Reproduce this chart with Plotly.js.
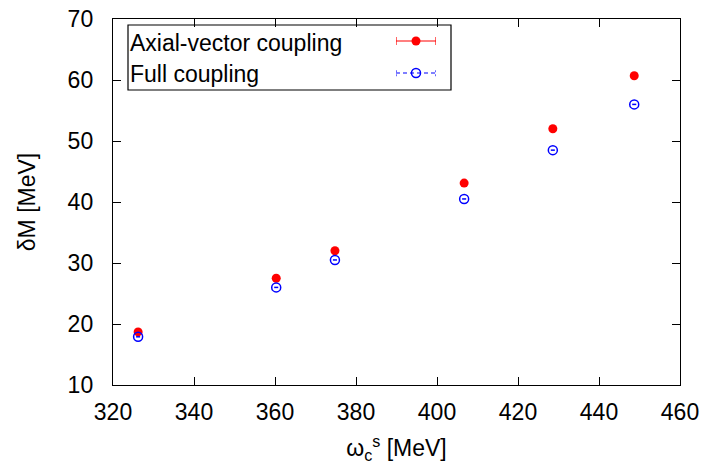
<!DOCTYPE html>
<html>
<head>
<meta charset="utf-8">
<script src="https://cdn.plot.ly/plotly-3.0.1.min.js"></script>
<style>html,body{margin:0;padding:0;background:#fff;}#chart{width:709px;height:470px;}</style>
</head>
<body>
<div id="chart"></div>
<script>
// Data
const omegaC = [326.2, 360.3, 374.8, 406.7, 428.6, 448.7];
const axialVector = [18.7, 27.5, 32.0, 43.1, 52.0, 60.7];
const axialVectorErr = [0.3, 0.3, 0.3, 0.3, 0.3, 0.3];
const fullCoupling = [17.9, 26.0, 30.5, 40.5, 48.5, 56.0];
const fullCouplingErr = [0.5, 0.5, 0.5, 0.5, 0.5, 0.5];
const seriesNames = ["Axial-vector coupling", "Full coupling"];
const xTicks = [320, 340, 360, 380, 400, 420, 440, 460];
const yTicks = [10, 20, 30, 40, 50, 60, 70];

const FONT = "Liberation Sans, Arial, Helvetica, sans-serif";
const FS = 23;

const traces = [
  {
    x: omegaC, y: axialVector, type: "scatter", mode: "markers", name: seriesNames[0],
    marker: {color: "#ff0000", size: 9, symbol: "circle"},
    error_x: {type: "data", array: axialVectorErr, visible: true, color: "#ff0000", thickness: 1, width: 3},
    showlegend: false
  },
  {
    x: omegaC, y: fullCoupling, type: "scatter", mode: "markers", name: seriesNames[1],
    marker: {color: "#0000ff", size: 9, symbol: "circle-open", line: {color: "#0000ff", width: 1.5}},
    error_x: {type: "data", array: fullCouplingErr, visible: true, color: "#0000ff", thickness: 1.5, width: 0},
    showlegend: false
  },
  // legend samples on overlay axes (0..1 coordinates)
  {
    x: [0.5], y: [0.5], xaxis: "x2", yaxis: "y2", type: "scatter", mode: "markers",
    marker: {color: "#ff0000", size: 9}, hoverinfo: "skip", showlegend: false,
    error_x: {type: "constant", value: 0.5, visible: true, color: "#ff0000", thickness: 1.2, width: 4}
  },
  {
    x: [0, 1], y: [0.5, 0.5], xaxis: "x3", yaxis: "y3", type: "scatter", mode: "lines",
    line: {color: "#0000ff", width: 1.2, dash: "4px,3px"}, hoverinfo: "skip", showlegend: false
  },
  {
    x: [0, 0, null, 1, 1], y: [0.3, 0.7, null, 0.3, 0.7], xaxis: "x3", yaxis: "y3", type: "scatter", mode: "lines",
    line: {color: "#0000ff", width: 1.2, dash: "2px,2px"}, hoverinfo: "skip", showlegend: false
  },
  {
    x: [0.5], y: [0.5], xaxis: "x3", yaxis: "y3", type: "scatter", mode: "markers",
    marker: {color: "#0000ff", size: 9, symbol: "circle-open", line: {color: "#0000ff", width: 1.5}},
    hoverinfo: "skip", showlegend: false
  }
];

const L = 113, R = 680, T = 19, B = 385;
const px = v => (v - L) / (R - L);
const py = v => (B - v) / (B - T);

const layout = {
  width: 709, height: 470,
  margin: {l: 113, r: 29, t: 19, b: 85},
  paper_bgcolor: "#fff", plot_bgcolor: "#fff",
  font: {family: FONT, size: FS, color: "#000"},
  showlegend: false,
  xaxis: {
    range: [320, 460], tickvals: xTicks, ticktext: xTicks.map(String),
    ticks: "inside", ticklen: 8, tickwidth: 1, tickcolor: "#000",
    showline: true, linecolor: "#000", linewidth: 1.2, mirror: "ticks",
    showgrid: false, zeroline: false, ticklabelstandoff: 6,
    tickfont: {family: FONT, size: FS},
    title: {text: "ω<sub>c</sub><sup>s</sup> [MeV]", font: {family: FONT, size: FS}, standoff: 16}
  },
  yaxis: {
    range: [10, 70], tickvals: yTicks, ticktext: yTicks.map(String),
    ticks: "inside", ticklen: 8, tickwidth: 1, tickcolor: "#000",
    showline: true, linecolor: "#000", linewidth: 1.2, mirror: "ticks",
    showgrid: false, zeroline: false, ticklabelstandoff: 14,
    tickfont: {family: FONT, size: FS},
    title: {text: "δM [MeV]", font: {family: FONT, size: FS}, standoff: 25}
  },
  xaxis2: {domain: [px(396), px(436)], range: [0, 1], visible: false, fixedrange: true, anchor: "y2"},
  yaxis2: {domain: [py(49), py(33)], range: [0, 1], visible: false, fixedrange: true, anchor: "x2"},
  xaxis3: {domain: [px(396), px(436)], range: [0, 1], visible: false, fixedrange: true, anchor: "y3"},
  yaxis3: {domain: [py(81), py(65)], range: [0, 1], visible: false, fixedrange: true, anchor: "x3"},
  shapes: [
    {type: "rect", xref: "paper", yref: "paper", x0: px(128), x1: px(451), y0: py(90), y1: py(25),
     line: {color: "#000", width: 1.2}, fillcolor: "#fff", layer: "below"}
  ],
  annotations: [
    {xref: "paper", yref: "paper", x: px(128), y: py(43), xanchor: "left", yanchor: "middle",
     text: seriesNames[0], showarrow: false, font: {family: FONT, size: FS, color: "#000"}},
    {xref: "paper", yref: "paper", x: px(128), y: py(74), xanchor: "left", yanchor: "middle",
     text: seriesNames[1], showarrow: false, font: {family: FONT, size: FS, color: "#000"}}
  ]
};

Plotly.newPlot("chart", traces, layout, {staticPlot: true, displayModeBar: false});
</script>
</body>
</html>
